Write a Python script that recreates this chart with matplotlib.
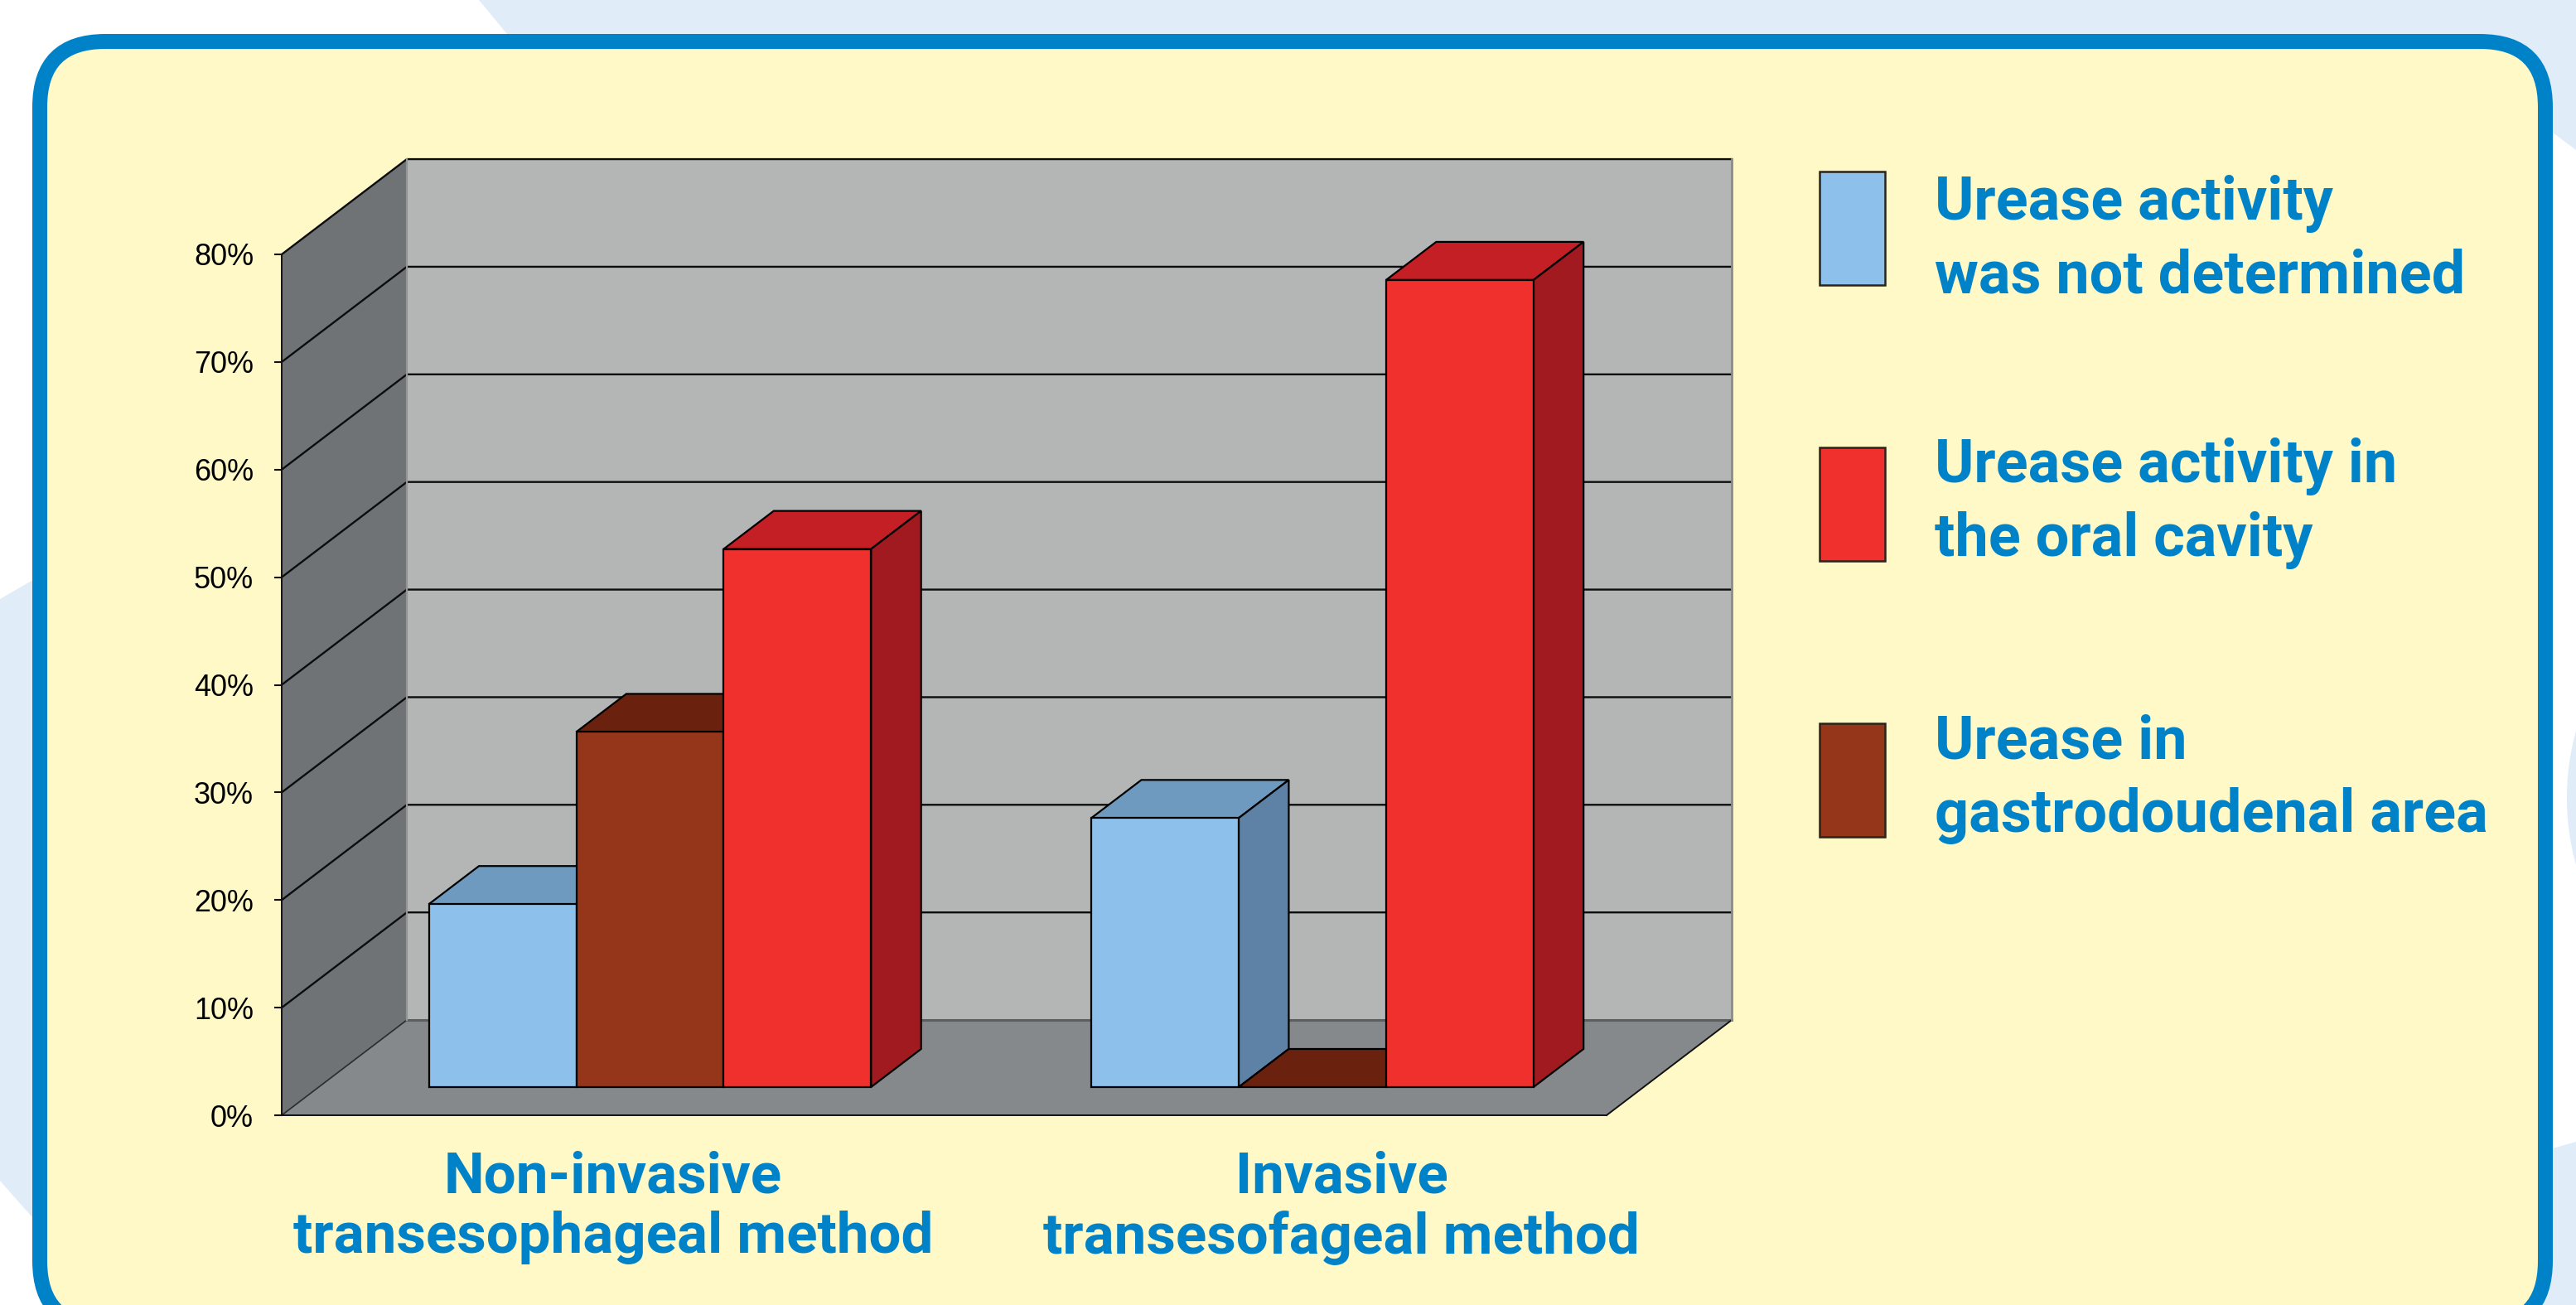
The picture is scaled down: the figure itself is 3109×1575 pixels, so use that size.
import matplotlib
matplotlib.use('Agg')
import matplotlib.pyplot as plt
from matplotlib.patches import Polygon, Rectangle, Ellipse, FancyBboxPatch

# percent of patients per method
methods = ['Non-invasive\ntransesophageal method', 'Invasive\ntransesofageal method']
not_determined = [17, 25]
gastroduodenal = [33, 0]
oral_cavity = [50, 75]
yticks = [0, 10, 20, 30, 40, 50, 60, 70, 80]
legend_labels = ['Urease activity\nwas not determined',
                 'Urease activity in\nthe oral cavity',
                 'Urease in\ngastrodoudenal area']

W, H = 3109, 1575
BLUE = '#0082c8'
FONT = 'Roboto'
px = 0.72  # points per pixel at dpi 100

# face colours: front, top, side
light_blue = ('#8dc0ea', '#6f9abf', '#5e82a6')
brown = ('#953519', '#6a220f', '#5a1c0c')
red = ('#ef302d', '#c41f24', '#a01a1f')

fig = plt.figure(figsize=(W / 100, H / 100), dpi=100, facecolor='white')

# page background, frame and legend use pixel coordinates
bg = fig.add_axes([0, 0, 1, 1], zorder=0)
bg.set_xlim(0, W)
bg.set_ylim(H, 0)
bg.axis('off')

pale = '#e0ecf7'
bg.add_patch(Polygon([(578, 0), (612, 41), (700, 150), (3081, 160), (3109, 181), (3109, 0)], fc=pale, ec='none'))
bg.add_patch(Polygon([(0, 723), (38, 701), (200, 680), (200, 1540), (100, 1540), (38, 1468), (0, 1425)], fc=pale, ec='none'))
bg.add_patch(Polygon([(2900, 1400), (3081, 1386), (3109, 1378), (3109, 1575), (2900, 1575)], fc=pale, ec='none'))
bg.add_patch(Ellipse((3401, 963), 606, 606, fc=pale, ec='none'))
bg.add_patch(FancyBboxPatch((48, 50), 3024, 1551, boxstyle='round,pad=0,rounding_size=79',
                            fc='#fff8c7', ec=BLUE, lw=18 * px))

# legend
swatch_top = [207, 540, 873]
text_base = [265, 582, 915]
for top, base, label, col in zip(swatch_top, text_base, legend_labels, [light_blue, red, brown]):
    bg.add_patch(Rectangle((2196, top), 79, 137, fc=col[0], ec='#2a2418', lw=1.8))
    first, second = label.split('\n')
    bg.text(2335, base, first, color=BLUE, fontsize=72 * px, family=FONT, weight='bold', va='baseline')
    bg.text(2335, base + 89, second, color=BLUE, fontsize=72 * px, family=FONT, weight='bold', va='baseline')

# front plane of the 3d box, everything else is sheared off it
ax = fig.add_axes([340 / W, 1 - 1346 / H, 1599 / W, 1039 / H], zorder=1)
ax.set_xlim(0, 2)
ax.set_ylim(0, 80)
ax.patch.set_visible(False)

depth_x = 0.1889
depth_y = 8.85


def shear(x, y, d):
    return (x + d * depth_x, y + d * depth_y)


def face(points, color, z, edge='black', lw=1.6):
    ax.add_patch(Polygon(points, closed=True, fc=color, ec=edge, lw=lw, joinstyle='miter',
                         clip_on=False, zorder=z))


# back wall, side wall, floor
face([shear(0, 0, 1), shear(2, 0, 1), shear(2, 80, 1), shear(0, 80, 1)], '#b4b6b5', 1, edge='none')
face([shear(0, 0, 0), shear(0, 0, 1), shear(0, 80, 1), shear(0, 80, 0)], '#6f7376', 1, edge='none')
face([shear(0, 0, 0), shear(2, 0, 0), shear(2, 0, 1), shear(0, 0, 1)], '#86898b', 2, edge='none')

for v in yticks:
    xs = [0, depth_x, 2 + depth_x]
    ys = [v, v + depth_y, v + depth_y]
    if v == 0:
        ax.plot(xs[:2], ys[:2], color='#2b2b2b', lw=1.2, clip_on=False, zorder=3)
        ax.plot(xs[1:], ys[1:], color='#5c5f60', lw=2.2, clip_on=False, zorder=3)
    else:
        ax.plot(xs, ys, color='#0c0c0c', lw=1.7, clip_on=False, zorder=3)
ax.plot([2, 2 + depth_x], [0, depth_y], color='#111111', lw=1.4, clip_on=False, zorder=3)
ax.plot([2 + depth_x, 2 + depth_x], [depth_y, 80 + depth_y], color='#8a8c8c', lw=2.0, clip_on=False, zorder=3)
ax.plot([depth_x, depth_x], [depth_y, 80 + depth_y], color='#929495', lw=1.6, clip_on=False, zorder=3)

# bars, drawn left to right so each one hides the side of the previous
bar_w = 0.2225
d0, d1 = 0.296, 0.696
series = [(not_determined, light_blue), (gastroduodenal, brown), (oral_cavity, red)]
z = 4
for g in range(len(methods)):
    for s, (values, col) in enumerate(series):
        v = values[g]
        x0 = g + 0.5 + (s - 1.5) * bar_w
        x1 = x0 + bar_w
        face([shear(x0, v, d0), shear(x1, v, d0), shear(x1, v, d1), shear(x0, v, d1)], col[1], z)
        face([shear(x1, 0, d0), shear(x1, 0, d1), shear(x1, v, d1), shear(x1, v, d0)], col[2], z)
        if v > 0:
            face([shear(x0, 0, d0), shear(x1, 0, d0), shear(x1, v, d0), shear(x0, v, d0)], col[0], z + 1)
        z += 2

for name in ['top', 'right']:
    ax.spines[name].set_visible(False)
for name in ['left', 'bottom']:
    ax.spines[name].set_linewidth(1.4)
    ax.spines[name].set_color('#111111')
    ax.spines[name].set_zorder(40)

ax.set_yticks(yticks)
ax.set_yticklabels([f'{v}%' for v in yticks], family='Liberation Sans', fontsize=36 * px)
ax.tick_params(axis='y', length=9 * px, width=1.5, pad=25 * px, color='#111111')

ax.set_xticks([0.5, 1.6])
ax.set_xticklabels(methods, family=FONT, weight='bold', color=BLUE, fontsize=69 * px, linespacing=1.16)
ax.tick_params(axis='x', length=0, pad=42 * px)

fig.savefig('out.png', dpi=100, facecolor='white')
